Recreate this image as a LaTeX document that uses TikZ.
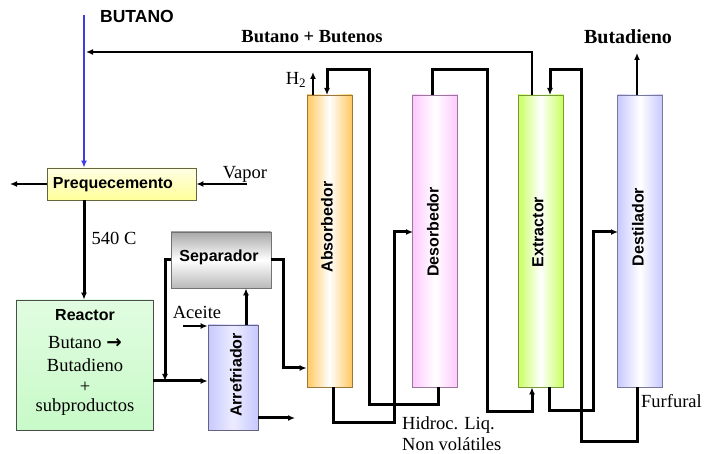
\documentclass[tikz,border=0pt]{standalone}
\usepackage{fontspec}
\setmainfont{Liberation Serif}
\setsansfont{Liberation Sans}
\newfontfamily\arrowfont{DejaVu Sans}
\usetikzlibrary{arrows.meta}
\definecolor{orcol}{HTML}{FFC860}
\definecolor{pkcol}{HTML}{FFC8FF}
\definecolor{grcol}{HTML}{C8FF60}
\definecolor{lvcol}{HTML}{C8C8FF}
\definecolor{rxcol}{HTML}{C8FAC8}
\definecolor{ylcol}{HTML}{FFFF99}
\definecolor{sepgray}{HTML}{A8A8A8}
\definecolor{feedblue}{RGB}{60,60,235}
\begin{document}
\begin{tikzpicture}[x=1pt,y=-1pt,
  lbl/.style={font=\sffamily\bfseries\fontsize{16}{19}\selectfont, inner sep=0pt},
  ser/.style={font=\fontsize{18.5}{22}\selectfont, inner sep=0pt},
  serb/.style={font=\bfseries\fontsize{18.5}{22}\selectfont, inner sep=0pt},
  colbox/.style={draw=#1!60!black, line width=0.8pt, left color=#1, right color=#1, middle color=white,
    minimum width=45pt, minimum height=292pt, inner sep=0pt},
  pipe/.style={line width=3pt, line join=miter},
  thinpipe/.style={line width=2.2pt},
  tip/.style={-{Latex[length=7pt,width=6pt]}},
]
\useasboundingbox (0,0) rectangle (705,454);

% ---- boxes ----
\node[draw=ylcol!40!black, line width=0.8pt, top color=ylcol!25!white, bottom color=ylcol,
  minimum width=149pt, minimum height=32pt, inner sep=0pt] (preq) at (121.5,184) {};
\node[lbl] (preqt) at (113,185) {Prequecemento};

\node[draw=black!70, line width=0.8pt, top color=rxcol!55!white, bottom color=rxcol,
  minimum width=137pt, minimum height=130pt, inner sep=0pt] (reactor) at (84.5,365) {};
\node[lbl] (rx1) at (85,315) {Reactor};
\node[ser] (rx2) at (85,343) {Butano {\arrowfont\bfseries →}};
\node[ser] (rx3) at (85,365) {Butadieno};
\node[ser] (rx4) at (85,387) {+};
\node[ser] (rx5) at (85,407) {subproductos};

\node[draw=black!55, line width=0.8pt, top color=sepgray, bottom color=sepgray!80, middle color=white,
  minimum width=100pt, minimum height=56pt, inner sep=0pt] (sep) at (221,260) {};
\node[lbl] (sept) at (219,257) {Separador};

\node[draw=lvcol!50!black, line width=0.8pt, left color=lvcol, right color=lvcol, middle color=lvcol!35!white,
  minimum width=50pt, minimum height=105pt, inner sep=0pt] (arref) at (233,377.5) {};
\node[lbl, rotate=90] (arreft) at (236,375) {Arrefriador};

\node[colbox=orcol] (abs) at (329.5,241) {};
\node[colbox=pkcol] (des) at (435,241) {};
\node[colbox=grcol] (ext) at (540.5,241) {};
\node[colbox=lvcol] (dest) at (640,241) {};
\node[lbl, rotate=90] (abst) at (327,227) {Absorbedor};
\node[lbl, rotate=90] (dest1) at (433,232) {Desorbedor};
\node[lbl, rotate=90] (extt) at (538,232) {Extractor};
\node[lbl, rotate=90] (destt) at (638,227) {Destilador};

% ---- labels ----
\node[lbl, font=\sffamily\bfseries\fontsize{17.5}{20}\selectfont] (butano) at (137,16) {BUTANO};
\node[serb] (bb) at (312,37) {Butano + Butenos};
\node[font=\bfseries\fontsize{20}{24}\selectfont, inner sep=0pt] (butad) at (628,37) {Butadieno};
\node[ser] (h2t) at (296,80) {H\textsubscript{2}};
\node[ser] (vap) at (245,174) {Vapor};
\node[ser] (temp) at (114,238) {540 C};
\node[ser] (aceite) at (197,312) {Aceite};
\node[ser, anchor=west] (hid) at (402,425) {Hidroc. Liq.};
\node[ser, anchor=west] (nonv) at (402,444) {Non volátiles};
\node[ser, anchor=west] (furf) at (641,401) {Furfural};

% ---- coordinates ----
\coordinate (butin) at (84,15);
\coordinate (lout) at (10,184);
\coordinate (vapin) at (247,184);
\coordinate (j) at (165,381);
\coordinate (ac) at (183,326);
\coordinate (ax) at (246,325);
\coordinate (aout) at (295,418);
\coordinate (sa) at (283,368);
\coordinate (h2) at (313,72);
\coordinate (absin) at (327,95);
\coordinate (L1a) at (369,70);
\coordinate (L1b) at (438,405);
\coordinate (absout) at (333,387);
\coordinate (L2) at (394,423);
\coordinate (desin) at (413,232);
\coordinate (desout) at (432,95);
\coordinate (L3a) at (487,70);
\coordinate (L3b) at (532,412);
\coordinate (extin) at (550,95);
\coordinate (L4a) at (581,442);
\coordinate (L4b) at (550,70);
\coordinate (destbot) at (637,387);
\coordinate (extout) at (549,387);
\coordinate (L5) at (593,411);
\coordinate (destin) at (618,232);
\coordinate (bdout) at (637,53);
\coordinate (exttop) at (532,95);
\coordinate (recyc) at (86,52);

% ---- connectors ----
\draw[thinpipe, draw=feedblue, tip] (butin) -- (butin |- preq.north);
\draw[thinpipe, tip] (preq.west) -- (lout);
\draw[thinpipe, tip] (vapin) -- (preq.east);
\draw[pipe, tip] (butin |- preq.south) -- (butin |- reactor.north);
\draw[pipe, tip] (reactor.east |- j) -- (arref.west |- j);
\draw[pipe, tip] (sep.west) -| (j);
\draw[thinpipe, tip] (ac) -- (arref.west |- ac);
\draw[pipe, tip] (ax) -- (ax |- sep.south);
\draw[pipe, tip] (arref.east |- aout) -- (aout);
\draw[pipe, tip] (sep.east) -| (sa) -- (abs.west |- sa);
\draw[thinpipe, tip] (h2 |- abs.north) -- (h2);
\draw[pipe, tip] (L1b |- des.south) -- (L1b) -| (L1a) -| (absin);
\draw[pipe, tip] (absout) |- (L2) |- (desin);
\draw[pipe, tip] (desout) |- (L3a) |- (L3b) -- (L3b |- ext.south);
\draw[pipe, tip] (destbot) |- (L4a) |- (L4b) -- (extin);
\draw[pipe, tip] (extout) |- (L5) |- (destin);
\draw[thinpipe, tip] (destbot |- dest.north) -- (bdout);
\draw[thinpipe, tip] (exttop) |- (recyc);
\end{tikzpicture}
\end{document}
